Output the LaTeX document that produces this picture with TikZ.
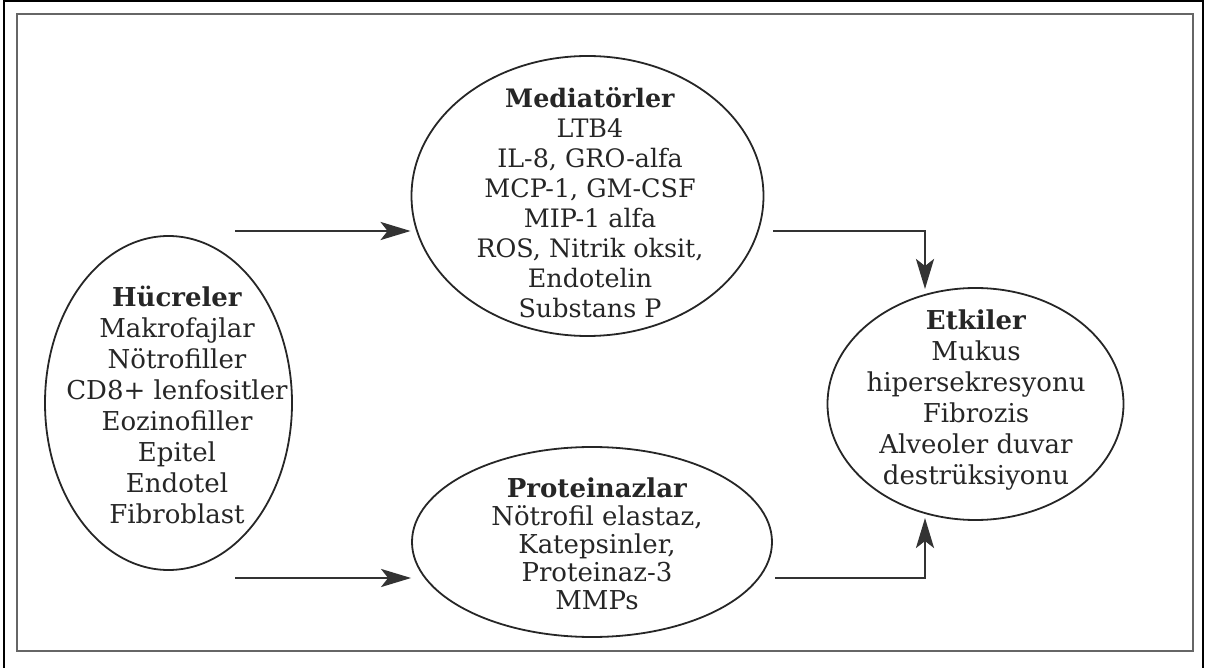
\documentclass[tikz,border=0pt]{standalone}
\usepackage{fontspec}
\setmainfont{DejaVu Serif}
\usetikzlibrary{shapes.geometric,arrows.meta}
\begin{document}
\begin{tikzpicture}[x=0.5pt,y=-0.5pt,
  ell/.style={draw=black!85, line width=0.9pt, ellipse, inner sep=0pt},
  txt/.style={align=center, inner sep=0pt, text=black!85},
  fa/.style={font=\fontsize{13}{15.5}\selectfont},
  fb/.style={font=\fontsize{12.7}{15}\selectfont},
  fc/.style={font=\fontsize{13}{14}\selectfont},
  arr/.style={draw=black!80, line width=1.4pt, -{Stealth[length=15pt,width=9pt,inset=3.5pt]}},
  frame/.style={draw=black!60, line width=1.3pt}
  ]
\useasboundingbox (0,0) rectangle (1206,668);
\draw[black, line width=0.8pt] (4,668) -- (4,1) -- (1203,1) -- (1203,668);
\draw[frame] (17,14) rectangle (1193,651);

% ellipses
\node[ell, minimum width=176pt, minimum height=140pt] (med) at (587.5,196) {};
\node[ell, minimum width=123.5pt, minimum height=167pt] (hue) at (168.5,403) {};
\node[ell, minimum width=180pt, minimum height=95pt] (pro) at (592,542) {};
\node[ell, minimum width=148pt, minimum height=116pt] (etk) at (975.5,404) {};

% texts
\node[txt, fa] (huet) at (177,405) {\textbf{Hücreler}\\Makrofajlar\\Nötrofiller\\CD8+ lenfositler\\Eozinofiller\\Epitel\\Endotel\\Fibroblast};
\node[txt, fb] (medt) at (590,203) {\textbf{Mediatörler}\\LTB4\\IL-8, GRO-alfa\\MCP-1, GM-CSF\\MIP-1 alfa\\ROS, Nitrik oksit,\\Endotelin\\Substans P};
\node[txt, fc] (prot) at (597,544) {\textbf{Proteinazlar}\\Nötrofil elastaz,\\Katepsinler,\\Proteinaz-3\\MMPs};
\node[txt, fa] (etkt) at (976,400) {\textbf{Etkiler}\\Mukus\\hipersekresyonu\\Fibrozis\\Alveoler duvar\\destrüksiyonu};

% connector end points
\coordinate (s1) at (235,231);
\coordinate (s2) at (235,578);
\coordinate (s3) at (773,231);
\coordinate (s4) at (775,578);
\coordinate (e3) at (925,289);
\coordinate (e4) at (925,518);

\draw[arr] (s1) -- (s1 -| med.west);
\draw[arr] (s2) -- (s2 -| pro.west);
\draw[arr] (s3) -| (e3);
\draw[arr] (s4) -| (e4);
\end{tikzpicture}
\end{document}
